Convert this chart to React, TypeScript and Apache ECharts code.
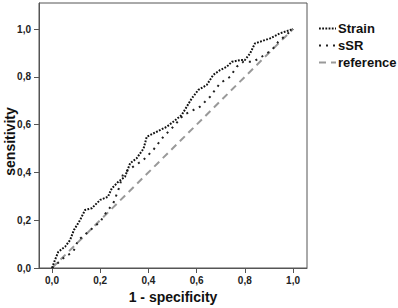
import React, { useEffect, useRef } from "react";
import * as echarts from "echarts";

const strainX = [0, 0.012, 0.026, 0.054, 0.075, 0.091, 0.116, 0.137, 0.165, 0.2, 0.232, 0.248, 0.275, 0.303, 0.324, 0.351, 0.38, 0.393, 0.434, 0.476, 0.503, 0.538, 0.559, 0.58, 0.607, 0.642, 0.669, 0.697, 0.725, 0.746, 0.78, 0.8, 0.822, 0.842, 0.863, 0.905, 0.946, 1.0];
const strainY = [0, 0.033, 0.068, 0.089, 0.117, 0.159, 0.2, 0.243, 0.25, 0.285, 0.298, 0.333, 0.361, 0.382, 0.438, 0.459, 0.5, 0.549, 0.57, 0.591, 0.612, 0.64, 0.675, 0.71, 0.745, 0.766, 0.808, 0.828, 0.842, 0.863, 0.87, 0.87, 0.898, 0.94, 0.947, 0.961, 0.982, 1.0];

const ssrX = [0, 0.054, 0.088, 0.109, 0.151, 0.2, 0.227, 0.254, 0.275, 0.296, 0.337, 0.379, 0.42, 0.462, 0.503, 0.545, 0.586, 0.614, 0.656, 0.697, 0.739, 0.766, 0.794, 0.835, 0.87, 0.912, 0.939, 1.0];
const ssrY = [0, 0.047, 0.068, 0.117, 0.152, 0.194, 0.236, 0.27, 0.326, 0.396, 0.424, 0.452, 0.494, 0.549, 0.591, 0.64, 0.661, 0.675, 0.717, 0.773, 0.8, 0.842, 0.863, 0.863, 0.884, 0.912, 0.947, 1.0];

const refX = [0, 1];
const refY = [0, 1];

const tickValues = [0, 0.2, 0.4, 0.6, 0.8, 1.0];
const seriesNames = ["Strain", "sSR", "reference"];

const fmt = (v: number) => v.toFixed(1).replace(".", ",");
const zip = (xs: number[], ys: number[]) => xs.map((x, i) => [x, ys[i]]);

export default function App() {
  const ref = useRef<HTMLDivElement>(null);
  useEffect(() => {
    const chart = echarts.init(ref.current!, null, { renderer: "svg" });
    const font = "Arial, 'Liberation Sans', sans-serif";
    const axisCommon = {
      axisLine: { show: true, onZero: false, lineStyle: { color: "#555", width: 1 } },
      axisTick: { show: true, length: 5, customValues: tickValues, lineStyle: { color: "#555" } },
      splitLine: { show: false },
      nameMoveOverlap: false,
    };
    const nameStyle = { fontFamily: font, fontWeight: "bold", fontSize: 14, color: "#111" };
    chart.setOption({
      animation: false,
      backgroundColor: "#fff",
      grid: {
        left: 39, top: 3, right: 91, bottom: 40,
        outerBoundsMode: "none", containLabel: false,
        show: true, borderColor: "#555", borderWidth: 1,
      },
      legend: {
        orient: "vertical",
        left: 318,
        top: 22,
        padding: 0,
        itemWidth: 17,
        itemHeight: 12,
        itemGap: 4,
        data: seriesNames,
        itemStyle: { opacity: 0, borderWidth: 0 },
        textStyle: { fontFamily: font, fontWeight: "bold", fontSize: 13, color: "#111", padding: [0, 0, 0, -3] },
      },
      xAxis: {
        type: "value",
        min: -0.054,
        max: 1.058,
        name: "1 - specificity",
        nameLocation: "middle",
        nameGap: 22,
        nameTextStyle: nameStyle,
        ...axisCommon,
        axisLabel: {
          customValues: tickValues,
          formatter: fmt,
          margin: 7,
          fontFamily: font,
          fontWeight: "bold",
          fontSize: 10,
          color: "#222",
        },
      },
      yAxis: {
        type: "value",
        min: 0,
        max: 1.109,
        name: "sensitivity",
        nameLocation: "middle",
        nameGap: 22,
        nameTextStyle: { ...nameStyle, padding: [0, 12, 0, 0] },
        ...axisCommon,
        axisLabel: {
          customValues: tickValues,
          formatter: fmt,
          margin: 8,
          fontFamily: font,
          fontWeight: "bold",
          fontSize: 10,
          color: "#222",
        },
      },
      series: [
        {
          name: "Strain",
          type: "line",
          data: zip(strainX, strainY),
          showSymbol: false,
          symbol: "none",
          color: "#111",
          lineStyle: { color: "#111", width: 2, type: [1.8, 1.4] },
          z: 3,
        },
        {
          name: "sSR",
          type: "line",
          data: zip(ssrX, ssrY),
          showSymbol: false,
          symbol: "none",
          color: "#222",
          lineStyle: { color: "#222", width: 2, type: [2, 5] },
          z: 2,
        },
        {
          name: "reference",
          type: "line",
          data: zip(refX, refY),
          showSymbol: false,
          symbol: "none",
          color: "#999",
          lineStyle: { color: "#999", width: 2, type: [7, 5] },
          z: 1,
        },
      ],
    });
    return () => chart.dispose();
  }, []);
  return <div ref={ref} style={{ width: 398, height: 308, position: "absolute", left: 0, top: 0 }} />;
}
